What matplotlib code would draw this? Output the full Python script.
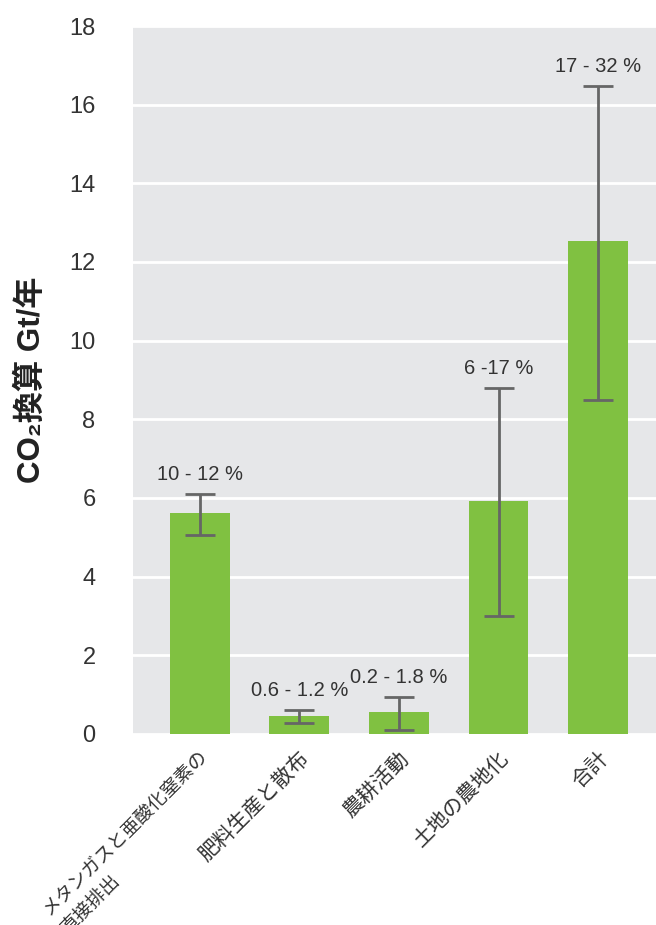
import matplotlib
matplotlib.use('Agg')
import matplotlib.pyplot as plt

plt.rcParams['font.family'] = ['Liberation Sans', 'Noto Sans CJK JP', 'DejaVu Sans']

# data
categories = ['メタンガスと亜酸化窒素の\n直接排出', '肥料生産と散布', '農耕活動', '土地の農地化', '合計']
values = [5.62, 0.46, 0.56, 5.92, 12.53]
err_low = [5.06, 0.28, 0.10, 3.00, 8.49]
err_high = [6.10, 0.61, 0.94, 8.80, 16.48]
shares = ['10 - 12 %', '0.6 - 1.2 %', '0.2 - 1.8 %', '6 -17 %', '17 - 32 %']

fig = plt.figure(figsize=(6.56, 9.25), dpi=100)
ax = fig.add_axes([133/656, 1 - 734/925, (656-133)/656, (734-26)/925])
ax.set_facecolor('#e6e7e9')

x = list(range(len(categories)))
yerr = [[v - lo for v, lo in zip(values, err_low)],
        [hi - v for v, hi in zip(values, err_high)]]
ax.bar(x, values, width=0.6, color='#80c141', zorder=2)
ax.errorbar(x, values, yerr=yerr, fmt='none', ecolor='#666666',
            elinewidth=2, capsize=11, capthick=2, zorder=3)

# range labels above the error bars
for xi, hi, s in zip(x, err_high, shares):
    ax.annotate(s, (xi, hi), xytext=(0, 7), textcoords='offset points',
                ha='center', va='bottom', fontsize=14.5, color='#333333')

ax.set_ylim(0, 18)
ax.set_xlim(-0.67, 4.58)
ax.set_yticks(range(0, 19, 2))
ax.yaxis.grid(True, color='white', linewidth=2, zorder=1)
ax.set_axisbelow(True)
for sp in ax.spines.values():
    sp.set_visible(False)
ax.tick_params(axis='both', length=0, colors='#333333')
ax.tick_params(axis='y', pad=27, labelsize=17)

ax.set_xticks(x)
ax.set_xticklabels(categories, rotation=45, ha='right', va='top', rotation_mode='anchor',
                   fontsize=15, linespacing=1.6, multialignment='left')
ax.get_xticklabels()[0].set_fontsize(13.5)   # long label, narrower kana in the original
ax.tick_params(axis='x', pad=10)

ax.set_ylabel('CO₂換算 Gt/年', fontsize=22.5, fontweight='bold', color='#222222')
ax.yaxis.set_label_coords(-0.165, 0.5)

fig.savefig('out.png', dpi=100)
